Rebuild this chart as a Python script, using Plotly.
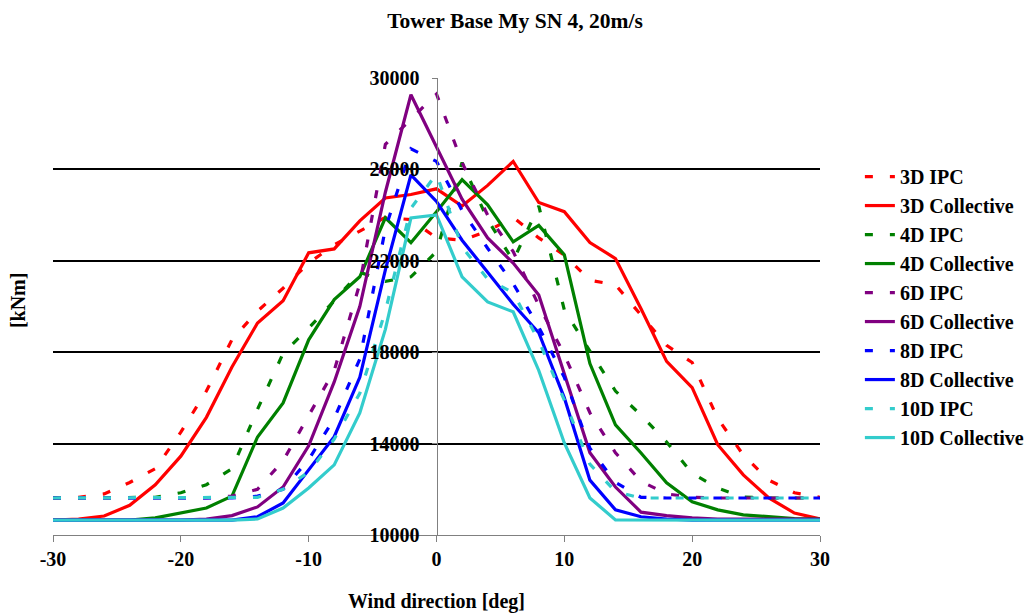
import plotly.graph_objects as go

# Wind direction [deg], sampled every 2 degrees
wind_dir = list(range(-30, 31, 2))

# Tower base My [kNm] per wake distance, IPC vs collective pitch control
ipc_3d = [11620, 11650, 11800, 12300, 12900, 14500, 16300, 18550, 19800, 20800, 21900,
          22700, 23300, 23900, 23800, 23000, 22900, 23300, 23900, 23000, 22250, 21150,
          20950, 19600, 18300, 17550, 15100, 13500, 12400, 11850, 11650]
col_3d = [10650, 10700, 10830, 11300, 12200, 13450, 15150, 17350, 19280, 20250, 22350,
          22520, 23750, 24750, 24900, 25150, 24400, 25300, 26350, 24550, 24150, 22800,
          22100, 19900, 17600, 16450, 13950, 12630, 11620, 10960, 10700]
ipc_4d = [11620, 11620, 11620, 11620, 11650, 11850, 12200, 12900, 15500, 17950, 19050,
          20250, 21500, 21100, 21300, 22400, 26300, 23800, 22000, 24400, 19850, 18050,
          16300, 15250, 14070, 12700, 12050, 11660, 11620, 11620, 11620]
col_4d = [10650, 10650, 10650, 10650, 10750, 10950, 11180, 11700, 14290, 15780, 18540,
          20300, 21300, 23880, 22790, 24150, 25550, 24450, 22830, 23550, 22260, 17500,
          14820, 13590, 12280, 11450, 11100, 10880, 10790, 10720, 10700]
ipc_6d = [11620, 11620, 11620, 11620, 11620, 11620, 11620, 11700, 12000, 13250, 15200,
          17200, 21000, 27100, 28200, 29300, 26300, 24000, 22400, 20050, 17900, 15350,
          13600, 12350, 11800, 11650, 11620, 11620, 11620, 11620, 11620]
col_6d = [10650, 10650, 10650, 10650, 10650, 10650, 10700, 10850, 11230, 12100, 13900,
          16700, 20000, 25000, 29270, 27000, 24700, 23000, 21900, 20500, 17050, 13600,
          12100, 11000, 10850, 10750, 10700, 10700, 10700, 10700, 10700]
ipc_8d = [11620, 11620, 11620, 11620, 11620, 11620, 11620, 11620, 11700, 12000, 13300,
          15100, 17700, 23400, 26900, 26350, 24200, 22550, 21000, 19100, 16900, 13800,
          12300, 11650, 11620, 11620, 11620, 11620, 11620, 11620, 11620]
col_8d = [10650, 10650, 10650, 10650, 10650, 10650, 10650, 10650, 10800, 11400, 12850,
          14300, 16900, 21600, 25760, 24600, 22900, 21500, 20100, 18850, 16000, 12400,
          11100, 10800, 10700, 10650, 10650, 10650, 10650, 10650, 10650]
ipc_10d = [11620, 11620, 11620, 11620, 11620, 11620, 11620, 11620, 11650, 12000, 12750,
           14200, 16200, 19800, 24300, 25800, 22600, 21200, 20600, 18500, 15900, 13100,
           11900, 11620, 11620, 11620, 11620, 11620, 11620, 11620, 11620]
col_10d = [10650, 10650, 10650, 10650, 10650, 10650, 10650, 10650, 10700, 11180, 12060,
           13070, 15340, 19000, 23880, 24010, 21300, 20200, 19765, 17200, 14030, 11620,
           10660, 10650, 10650, 10650, 10650, 10650, 10650, 10650, 10650]

y_ticks = [10000, 14000, 18000, 22000, 26000, 30000]
x_ticks = [-30, -20, -10, 0, 10, 20, 30]
x_tick_text = ["-30", "-20", "-10", "0", "10", "20", "30"]

RED, GREEN, PURPLE, BLUE, TURQ = "#FF0000", "#008000", "#800080", "#0000FF", "#33CCCC"
DASH = "8px,17px"

series = [
    ("3D IPC", ipc_3d, RED, DASH),
    ("3D Collective", col_3d, RED, "solid"),
    ("4D IPC", ipc_4d, GREEN, DASH),
    ("4D Collective", col_4d, GREEN, "solid"),
    ("6D IPC", ipc_6d, PURPLE, DASH),
    ("6D Collective", col_6d, PURPLE, "solid"),
    ("8D IPC", ipc_8d, BLUE, DASH),
    ("8D Collective", col_8d, BLUE, "solid"),
    ("10D IPC", ipc_10d, TURQ, DASH),
    ("10D Collective", col_10d, TURQ, "solid"),
]

FONT = "Liberation Serif, Times New Roman, serif"


def bold(size):
    return dict(family=FONT, size=size, color="black", weight="bold")


fig = go.Figure()
for name, vals, color, dash in series:
    fig.add_trace(go.Scatter(
        x=wind_dir, y=vals, name=name, mode="lines",
        line=dict(color=color, width=3.2, dash=dash),
    ))

fig.update_layout(
    width=1030, height=613,
    margin=dict(l=53, r=210, t=78, b=78, autoexpand=False),
    paper_bgcolor="white", plot_bgcolor="white",
    font=bold(20),
    title=dict(text="Tower Base My SN 4, 20m/s", x=0.5, xref="container",
               y=1 - 20 / 613, yref="container", yanchor="middle",
               font=bold(21.5)),
    showlegend=True,
    legend=dict(x=1.052, y=0.827, xanchor="left", yanchor="top",
                bgcolor="rgba(0,0,0,0)", font=bold(20)),
    xaxis=dict(
        range=[-30, 30], tickvals=x_ticks, ticktext=x_tick_text,
        showgrid=False, zeroline=False, automargin=False,
        showline=True, linecolor="#808080", linewidth=1,
        ticks="outside", ticklen=6, tickcolor="#808080", tickfont=bold(20),
        title=dict(text="Wind direction [deg]", standoff=24, font=bold(20)),
    ),
    yaxis=dict(
        range=[10000, 30000], tickvals=y_ticks, tickformat="d",
        anchor="free", position=0.5, automargin=False,
        showgrid=True, gridcolor="black", gridwidth=2, zeroline=False,
        showline=True, linecolor="#808080", linewidth=1,
        ticks="outside", ticklen=5, tickcolor="#808080", tickfont=bold(20),
        ticklabelstandoff=8,
    ),
    annotations=[dict(
        text="[kNm]", xref="paper", yref="paper", x=(18 - 53) / 767, y=0.514,
        textangle=-90, showarrow=False, xanchor="center", yanchor="middle",
        font=bold(20),
    )],
)

fig.write_html("out.html")
